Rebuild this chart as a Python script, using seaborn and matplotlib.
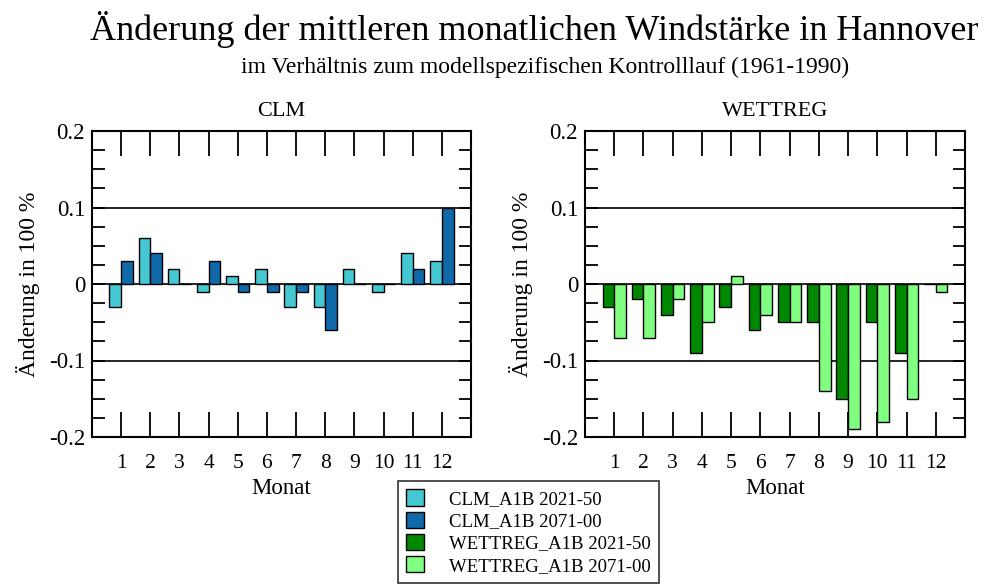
import matplotlib
matplotlib.use("Agg")
import matplotlib.pyplot as plt
import matplotlib.ticker as mticker
from matplotlib.patches import Patch
import numpy as np
import pandas as pd
import seaborn as sns

months = [str(m) for m in range(1, 13)]
clm_2021 = [-0.03, 0.06, 0.02, -0.01, 0.01, 0.02, -0.03, -0.03, 0.02, -0.01, 0.04, 0.03]
clm_2071 = [0.03, 0.04, 0.0, 0.03, -0.01, -0.01, -0.01, -0.06, 0.0, 0.0, 0.02, 0.10]
wett_2021 = [-0.03, -0.02, -0.04, -0.09, -0.03, -0.06, -0.05, -0.05, -0.15, -0.05, -0.09, 0.0]
wett_2071 = [-0.07, -0.07, -0.02, -0.05, 0.01, -0.04, -0.05, -0.14, -0.19, -0.18, -0.15, -0.01]

series_names = ["CLM_A1B 2021-50", "CLM_A1B 2071-00", "WETTREG_A1B 2021-50", "WETTREG_A1B 2071-00"]
colors = ["#46C8D2", "#1069A8", "#008800", "#80FF80"]

title = "Änderung der mittleren monatlichen Windstärke in Hannover"
subtitle = "im Verhältnis zum modellspezifischen Kontrolllauf (1961-1990)"
ylabel = "Änderung in 100 %"
xlabel = "Monat"

sns.set_theme(style="ticks")
plt.rcParams["font.family"] = ["Liberation Serif", "DejaVu Serif"]
plt.rcParams["axes.unicode_minus"] = False
for k in ("text.color", "axes.labelcolor", "xtick.color", "ytick.color", "axes.edgecolor"):
    plt.rcParams[k] = "black"

fig = plt.figure(figsize=(9.84, 5.85), dpi=100)
W, H = 984, 585

def make_ax(x0, x1, y0, y1):
    return fig.add_axes([x0 / W, 1 - y1 / H, (x1 - x0) / W, (y1 - y0) / H])

ax1 = make_ax(92, 471, 131, 437)
ax2 = make_ax(585, 965, 131, 437)

def draw(ax, a, b, names, cols, panel_title):
    df = pd.DataFrame({
        "Monat": months * 2,
        "value": a + b,
        "series": [names[0]] * 12 + [names[1]] * 12,
    })
    sns.barplot(data=df, x="Monat", y="value", hue="series", order=months,
                hue_order=names, palette=cols, width=0.8, edgecolor="black",
                linewidth=1.0, saturation=1, ax=ax, legend=False, zorder=3)
    for yv in (-0.1, 0.0, 0.1):
        ax.axhline(yv, color="black", lw=1.2, zorder=2)
    ax.set_xlim(-1, 12)
    ax.set_ylim(-0.2, 0.2)
    ax.yaxis.set_major_locator(mticker.FixedLocator([-0.2, -0.1, 0.0, 0.1, 0.2]))
    ax.yaxis.set_major_formatter(mticker.FixedFormatter(["-0.2", "-0.1", "0", "0.1", "0.2"]))
    ax.yaxis.set_minor_locator(mticker.MultipleLocator(0.025))
    ax.tick_params(axis="y", which="both", direction="in", length=9, width=1.3,
                   left=True, right=True, labelsize=16.5, pad=5, color="black",
                   labelcolor="black")
    ax.tick_params(axis="x", which="major", direction="in", length=18, width=1.3,
                   top=True, bottom=True, labelsize=15.5, pad=12, color="black",
                   labelcolor="black")
    for s in ax.spines.values():
        s.set_visible(True)
        s.set_linewidth(1.5)
        s.set_color("black")
    ax.set_xlabel(xlabel, fontsize=16.5, labelpad=4)
    ax.set_ylabel(ylabel, fontsize=17, labelpad=6)
    ax.set_title(panel_title, fontsize=16, pad=11)
    ax.set_facecolor("white")
    ax.grid(False)

draw(ax1, clm_2021, clm_2071, series_names[:2], colors[:2], "CLM")
draw(ax2, wett_2021, wett_2071, series_names[2:], colors[2:], "WETTREG")

fig.text(534 / W, 1 - 30 / H, title, ha="center", va="center", fontsize=26)
fig.text(545 / W, 1 - 67 / H, subtitle, ha="center", va="center", fontsize=17)

handles = [Patch(facecolor=c, edgecolor="black", linewidth=1.0) for c in colors]
leg = fig.legend(handles, series_names, loc="upper left",
                 bbox_to_anchor=(398 / W, 1 - 481 / H), fontsize=13.5,
                 frameon=True, fancybox=False, edgecolor="black",
                 handlelength=0.95, handleheight=0.95, handletextpad=1.3,
                 labelspacing=0.2, borderpad=0.45, borderaxespad=0)
leg.get_frame().set_linewidth(1.2)

fig.savefig("out.png", dpi=100, facecolor="white")
